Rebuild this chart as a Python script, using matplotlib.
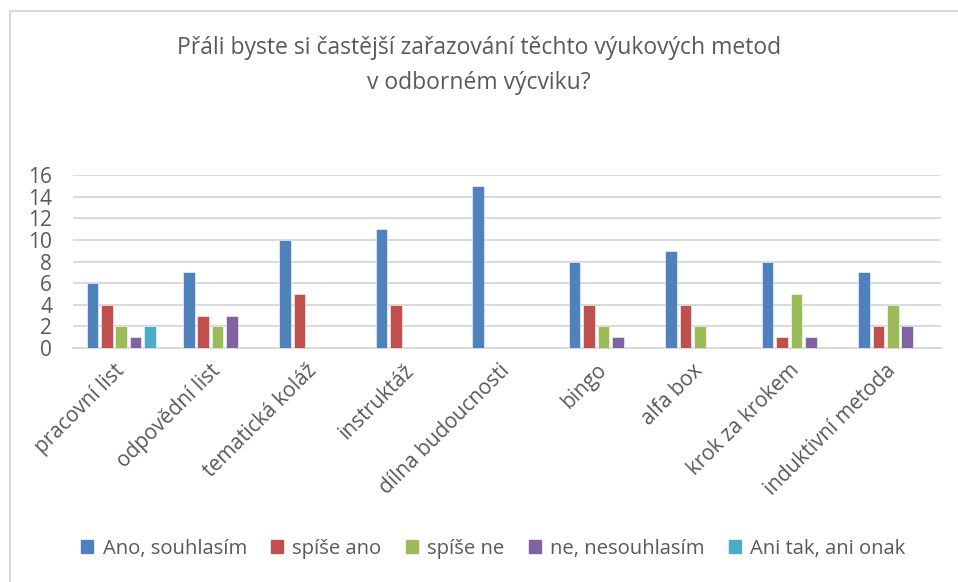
import matplotlib.pyplot as plt
import numpy as np
from matplotlib.lines import Line2D

categories = ["pracovní list", "odpovědní list", "tematická koláž", "instruktáž",
              "dílna budoucnosti", "bingo", "alfa box", "krok za krokem", "induktivní metoda"]
series_names = ["Ano, souhlasím", "spíše ano", "spíše ne", "ne, nesouhlasím", "Ani tak, ani onak"]
ano = [6, 7, 10, 11, 15, 8, 9, 8, 7]
spise_ano = [4, 3, 5, 4, 0, 4, 4, 1, 2]
spise_ne = [2, 2, 0, 0, 0, 2, 2, 5, 4]
ne = [1, 3, 0, 0, 0, 1, 0, 1, 2]
ani = [2, 0, 0, 0, 0, 0, 0, 0, 0]
colors = ["#4F81BD", "#C0504D", "#9BBB59", "#8064A2", "#4BACC6"]

plt.rcParams["font.family"] = ["Open Sans", "DejaVu Sans"]
text_color = "#595959"
grid_color = "#D9D9D9"

fig = plt.figure(figsize=(9.58, 5.82), dpi=100)
ax = fig.add_axes([73 / 958, 1 - 348 / 582, (941 - 73) / 958, (348 - 175) / 582])

x = np.arange(len(categories))
slot = 0.15
bar_w = 0.12
all_series = [ano, spise_ano, spise_ne, ne, ani]
for i, (vals, col, name) in enumerate(zip(all_series, colors, series_names)):
    offs = (i - 2) * slot
    ax.bar(x + offs, vals, width=bar_w, color=col, label=name, zorder=3,
           edgecolor="white", linewidth=0.4)

ax.set_xlim(-0.5, len(categories) - 0.5)
ax.set_ylim(0, 16)
ax.set_yticks(range(0, 17, 2))
ax.yaxis.grid(True, color=grid_color, linewidth=1.4, zorder=0)
ax.set_axisbelow(True)
for s in ["top", "right", "left"]:
    ax.spines[s].set_visible(False)
ax.spines["bottom"].set_color(grid_color)
ax.spines["bottom"].set_linewidth(1.4)
ax.tick_params(axis="both", length=0, colors=text_color, labelsize=15)
ax.tick_params(axis="y", pad=15)
ax.set_xticks(x)
ax.set_xticklabels(categories, rotation=45, ha="right", va="center",
                   rotation_mode="anchor", fontsize=15, color=text_color)
ax.tick_params(axis="x", pad=14)

fig.text(0.5, 1 - 48 / 582, "Přáli byste si častější zařazování těchto výukových metod",
         ha="center", va="center", fontsize=16.5, color=text_color)
fig.text(0.5, 1 - 83 / 582, "v odborném výcviku?",
         ha="center", va="center", fontsize=16.5, color=text_color)

handles = [plt.Rectangle((0, 0), 1, 1, color=c) for c in colors]
leg = fig.legend(handles, series_names, loc="center", bbox_to_anchor=(0.515, 1 - 549 / 582),
                 ncol=5, frameon=False, fontsize=14.6, handlelength=0.6, handleheight=0.6,
                 handletextpad=0.45, columnspacing=1.2)
for t in leg.get_texts():
    t.set_color(text_color)

# outer chart border (top and left visible in the screenshot)
fig.add_artist(Line2D([9.5 / 958, 1], [1 - 11 / 582, 1 - 11 / 582], color=grid_color, lw=1.5))
fig.add_artist(Line2D([9.5 / 958, 9.5 / 958], [0, 1 - 11 / 582], color=grid_color, lw=1.5))

fig.savefig("out.png", dpi=100)
